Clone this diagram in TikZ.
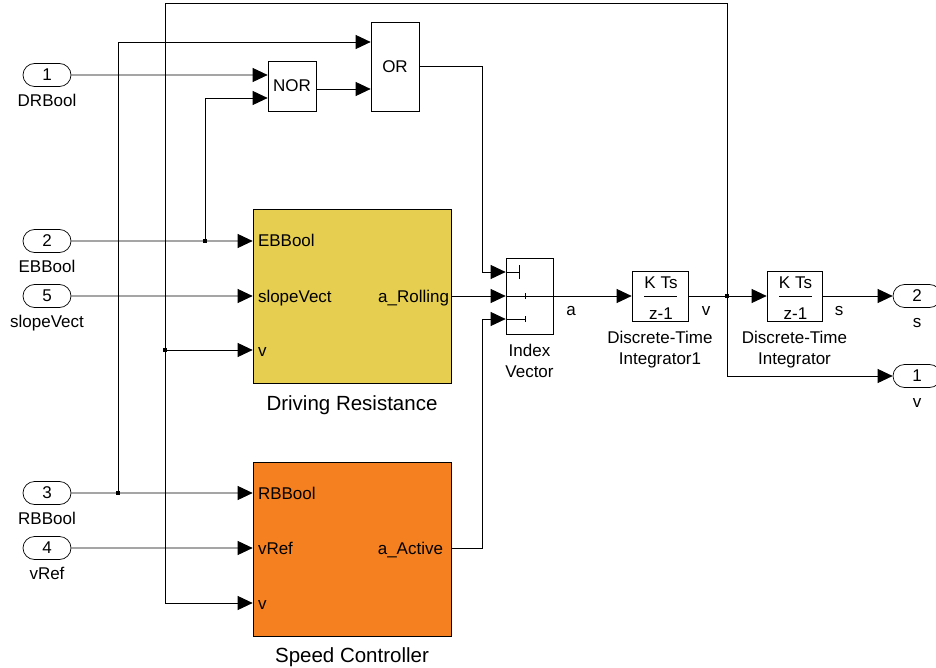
\documentclass[tikz,border=0pt]{standalone}
\usepackage{fontspec}
\setmainfont{Liberation Sans}
\usepackage{xcolor}
\usetikzlibrary{calc, positioning, shapes.misc, arrows.meta}

\definecolor{vang}{RGB}{230,207,80}
\definecolor{cam}{RGB}{245,128,32}
\newcommand{\chu}{\fontsize{17pt}{21pt}\selectfont}
\newcommand{\chulon}{\fontsize{20.5pt}{24pt}\selectfont}

\begin{document}
\begin{tikzpicture}[x=1pt, y=-1pt, line width=0.7pt,
    >={Triangle[length=15pt, width=14pt]},
    cong/.style={draw, rounded rectangle, minimum width=48pt, minimum height=23pt, inner sep=0pt, font=\chu},
    khoi/.style={draw, inner sep=0pt, font=\chu},
    ten/.style={inner sep=0pt, font=\chu, text height=12.3pt, text depth=3.6pt},
    ten2/.style={inner sep=0pt, font=\chu, align=center},
    chan/.style={inner sep=0pt, font=\chu, text height=12pt, text depth=0pt},
    nut/.style={fill, inner sep=0pt, minimum size=4pt}]
    \useasboundingbox (0,0) rectangle (936,668);
    % Cổng vào
    \node[cong] (in1) at (47,75) {1};
    \node[ten, below=7pt of in1] (tin1) {DRBool};
    \node[cong] (in2) at (47,241) {2};
    \node[ten, below=7pt of in2] (tin2) {EBBool};
    \node[cong] (in5) at (47,296) {5};
    \node[ten, below=7pt of in5] (tin5) {slopeVect};
    \node[cong] (in3) at (47,493) {3};
    \node[ten, below=7pt of in3] (tin3) {RBBool};
    \node[cong] (in4) at (47,548) {4};
    \node[ten, below=7pt of in4] (tin4) {vRef};
    % Cổng ra
    \node[cong] (out2) at (917,296) {2};
    \node[ten, below=7pt of out2] (tout2) {s};
    \node[cong] (out1) at (917,376) {1};
    \node[ten, below=7pt of out1] (tout1) {v};

    % Khối logic
    \node[khoi, minimum width=48pt, minimum height=50pt] (nor) at (292,86) {NOR};
    \node[khoi, minimum width=48pt, minimum height=89pt] (or) at (395,66.5) {OR};

    % Khối con
    \node[khoi, fill=vang, minimum width=198pt, minimum height=174pt] (dr) at (352,296) {};
    \node[ten2, font=\chulon, below=12pt of dr] (tdr) {Driving Resistance};
    \node[chan, anchor=west] (pdr1) at ($(dr.west |- in2)+(5,0)$) {EBBool};
    \node[chan, anchor=west] (pdr2) at ($(dr.west |- in5)+(5,0)$) {slopeVect};
    \node[chan, anchor=west] (pdr3) at ($(dr.west)+(5,54)$) {v};
    \node[chan, anchor=east] (pdr4) at ($(dr.east)+(-2,0)$) {a\_Rolling};

    \node[khoi, fill=cam, minimum width=198pt, minimum height=174pt] (sc) at (352,549) {};
    \node[ten2, font=\chulon, below=11pt of sc] (tsc) {Speed Controller};
    \node[chan, anchor=west] (psc1) at ($(sc.west |- in3)+(5,0)$) {RBBool};
    \node[chan, anchor=west] (psc2) at ($(sc.west |- in4)+(5,0)$) {vRef};
    \node[chan, anchor=west] (psc3) at ($(sc.west)+(5,54)$) {v};
    \node[chan, anchor=east] (psc4) at ($(sc.east |- in4)+(-8,0)$) {a\_Active};

    % Index Vector
    \node[khoi, minimum width=47pt, minimum height=76pt] (idx) at (529.5,296) {};
    \node[ten2, below=9pt of idx] (tidx) {Index\\Vector};
    \draw ($(idx.west)+(0,-24)$) -- ++(14,0) ++(0,-7) -- ++(0,14);
    \draw (idx.west) -- (idx.east);
    \draw ($(idx.west)+(0,23)$) -- ++(20,0);
    \draw[line width=1.6pt] ($(idx.west)+(20,-3)$) -- ++(0,6);
    \draw[line width=1.6pt] ($(idx.west)+(20,20)$) -- ++(0,6);

    % Tích phân rời rạc
    \node[khoi, minimum width=56pt, minimum height=50pt] (int1) at (660,296) {};
    \node[ten2, below=9pt of int1] (tint1) {Discrete-Time\\Integrator1};
    \node[ten2, anchor=base] (k1) at (661,288) {K Ts};
    \node[ten2, anchor=base] (z1) at (661,319) {z-1};
    \draw (644,296) -- (677,296);
    \node[khoi, minimum width=55pt, minimum height=50pt] (int2) at (794.5,296) {};
    \node[ten2, below=9pt of int2] (tint2) {Discrete-Time\\Integrator};
    \node[ten2, anchor=base] (k2) at (795.5,288) {K Ts};
    \node[ten2, anchor=base] (z2) at (795.5,319) {z-1};
    \draw (779,296) -- (812,296);

    % Điểm rẽ nhánh
    \coordinate (j1) at (205,241);
    \coordinate (j2) at (165,350);
    \coordinate (j3) at (118,493);
    \coordinate (jv) at (727,296);
    \foreach \p in {j1,j2,j3,jv} \node[nut] at (\p) {};

    % Đường tín hiệu
    \draw[->] (in1) -- ($(nor.west)+(0,-11)$);
    \draw[->] (in2) -- (in2 -| dr.west);
    \draw[->] (in5) -- (in5 -| dr.west);
    \draw[->] (in3) -- (in3 -| sc.west);
    \draw[->] (in4) -- (in4 -| sc.west);
    \draw[->] (j1) |- ($(nor.west)+(0,12)$);
    \draw[->] (j3) |- ($(or.west)+(0,-24.5)$);
    \draw[->] ($(nor.east)+(0,3)$) -- ($(or.west)+(0,22.5)$);
    \draw[->] (or.east) -| (482,272) -- ($(idx.west)+(0,-24)$);
    \draw[->] (dr.east) -- (idx.west);
    \draw[->] (sc.east |- in4) -| (482,319) -- ($(idx.west)+(0,23)$);
    \draw[->] (idx.east) -- (int1.west);
    \node[ten2, anchor=base] (ta) at (571,315) {a};
    \draw (int1.east) -- (jv);
    \node[ten2, anchor=base] (tv) at (706,315) {v};
    \draw[->] (jv) -- (int2.west);
    \draw[->] (jv) |- (out1);
    \draw[->] (jv) |- (165,3) |- ($(sc.west)+(0,54)$);
    \draw[->] (j2) -- (dr.west |- j2);
    \draw[->] (int2) -- (out2);
    \node[ten2, anchor=base] (ts) at (839,315) {s};
\end{tikzpicture}
\end{document}
